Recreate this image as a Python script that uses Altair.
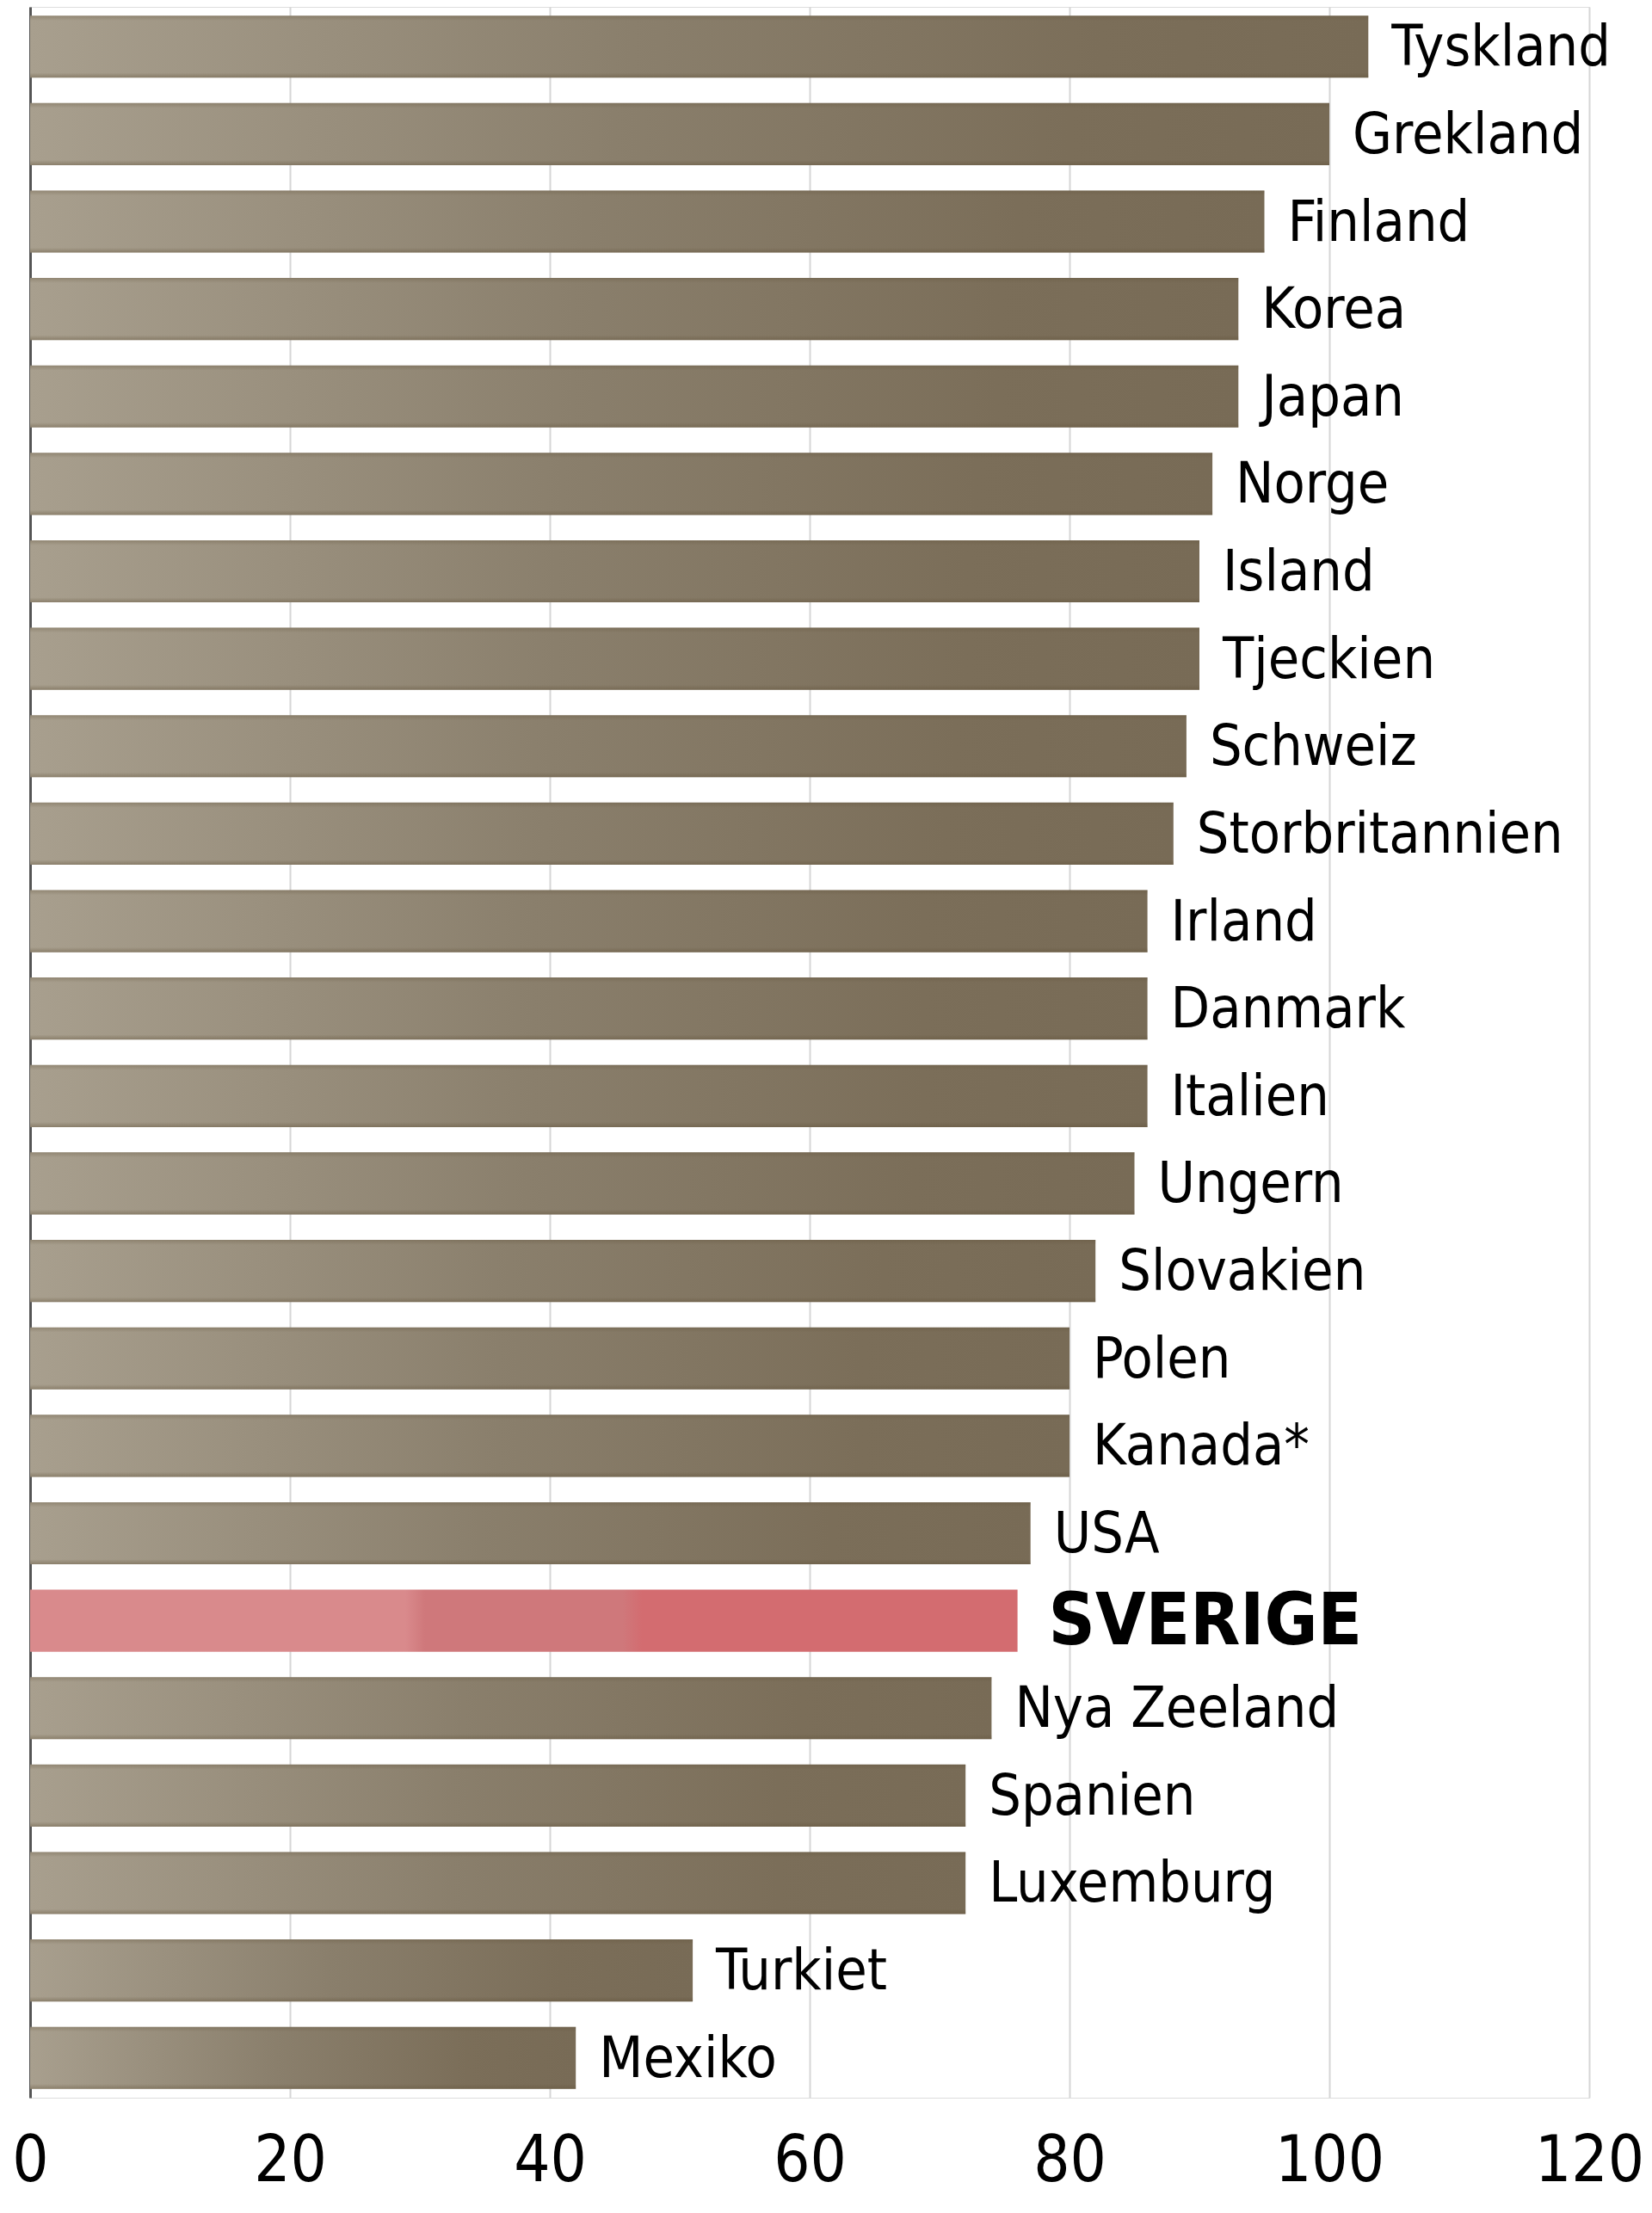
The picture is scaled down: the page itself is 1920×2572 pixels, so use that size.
import altair as alt
import pandas as pd

countries = ["Tyskland", "Grekland", "Finland", "Korea", "Japan", "Norge", "Island",
             "Tjeckien", "Schweiz", "Storbritannien", "Irland", "Danmark", "Italien",
             "Ungern", "Slovakien", "Polen", "Kanada*", "USA", "SVERIGE", "Nya Zeeland",
             "Spanien", "Luxemburg", "Turkiet", "Mexiko"]
values = [103, 100, 95, 93, 93, 91, 90, 90, 89, 88, 86, 86, 86, 85, 82, 80, 80, 77, 76,
          74, 72, 72, 51, 42]
highlight = "SVERIGE"
tick_values = [0, 20, 40, 60, 80, 100, 120]

df = pd.DataFrame({"country": countries, "value": values})

FONT = "DejaVu Sans Condensed"

y_enc = alt.Y("country:N", sort=countries,
              scale=alt.Scale(paddingInner=0.29, paddingOuter=0.1),
              axis=alt.Axis(labels=False, ticks=False, title=None, grid=False,
                            domainColor="#555555", domainWidth=3))
x_enc = alt.X("value:Q", scale=alt.Scale(domain=[0, 120], nice=False, zero=True),
              axis=alt.Axis(values=tick_values, grid=True, gridColor="#d6d6d6",
                            gridWidth=2, domain=False, ticks=False, tickSize=0,
                            labelFontSize=74, labelFont=FONT, labelColor="#000000",
                            labelPadding=38, labelBaseline="top", labelFlush=False,
                            labelOverlap=False, labelBound=False, title=None))

base = alt.Chart(df).encode(y=y_enc, x=x_enc)

brown = alt.LinearGradient(
    gradient="linear", x1=0, x2=1, y1=0, y2=0,
    stops=[alt.GradientStop(color="#a89f8e", offset=0),
           alt.GradientStop(color="#8a7f6c", offset=0.45),
           alt.GradientStop(color="#7b6e59", offset=0.8),
           alt.GradientStop(color="#786b56", offset=1)])
pink = alt.LinearGradient(
    gradient="linear", x1=0, x2=1, y1=0, y2=0,
    stops=[alt.GradientStop(color="#d98a8c", offset=0),
           alt.GradientStop(color="#d98a8c", offset=0.38),
           alt.GradientStop(color="#cf787b", offset=0.40),
           alt.GradientStop(color="#cf787b", offset=0.60),
           alt.GradientStop(color="#d36c70", offset=0.62),
           alt.GradientStop(color="#d36c70", offset=1)])
edges = alt.LinearGradient(
    gradient="linear", x1=0, x2=0, y1=0, y2=1,
    stops=[alt.GradientStop(color="rgba(95,80,55,0.30)", offset=0),
           alt.GradientStop(color="rgba(95,80,55,0)", offset=0.08),
           alt.GradientStop(color="rgba(95,80,55,0)", offset=0.92),
           alt.GradientStop(color="rgba(95,80,55,0.40)", offset=1)])

bars = base.transform_filter(alt.datum.country != highlight).mark_bar(color=brown)
bar_edges = base.transform_filter(alt.datum.country != highlight).mark_bar(color=edges)
bar_hi = base.transform_filter(alt.datum.country == highlight).mark_bar(color=pink)

labels = base.transform_filter(alt.datum.country != highlight).mark_text(
    align="left", baseline="middle", dx=27, dy=2, fontSize=66, font=FONT,
    color="#000000").encode(text="country:N")
label_hi = base.transform_filter(alt.datum.country == highlight).mark_text(
    align="left", baseline="middle", dx=36, dy=2, fontSize=84, font=FONT,
    fontWeight="bold", color="#000000").encode(text="country:N")

chart = alt.layer(bars, bar_edges, bar_hi, labels, label_hi).properties(
    width=1812, height=2430,
    autosize=alt.AutoSizeParams(type="none"),
    padding={"left": 27, "top": 0, "right": 65, "bottom": 120},
).configure_view(stroke=None).configure(background="white")

chart.save("out.html", embed_options={"renderer": "svg", "actions": False})
